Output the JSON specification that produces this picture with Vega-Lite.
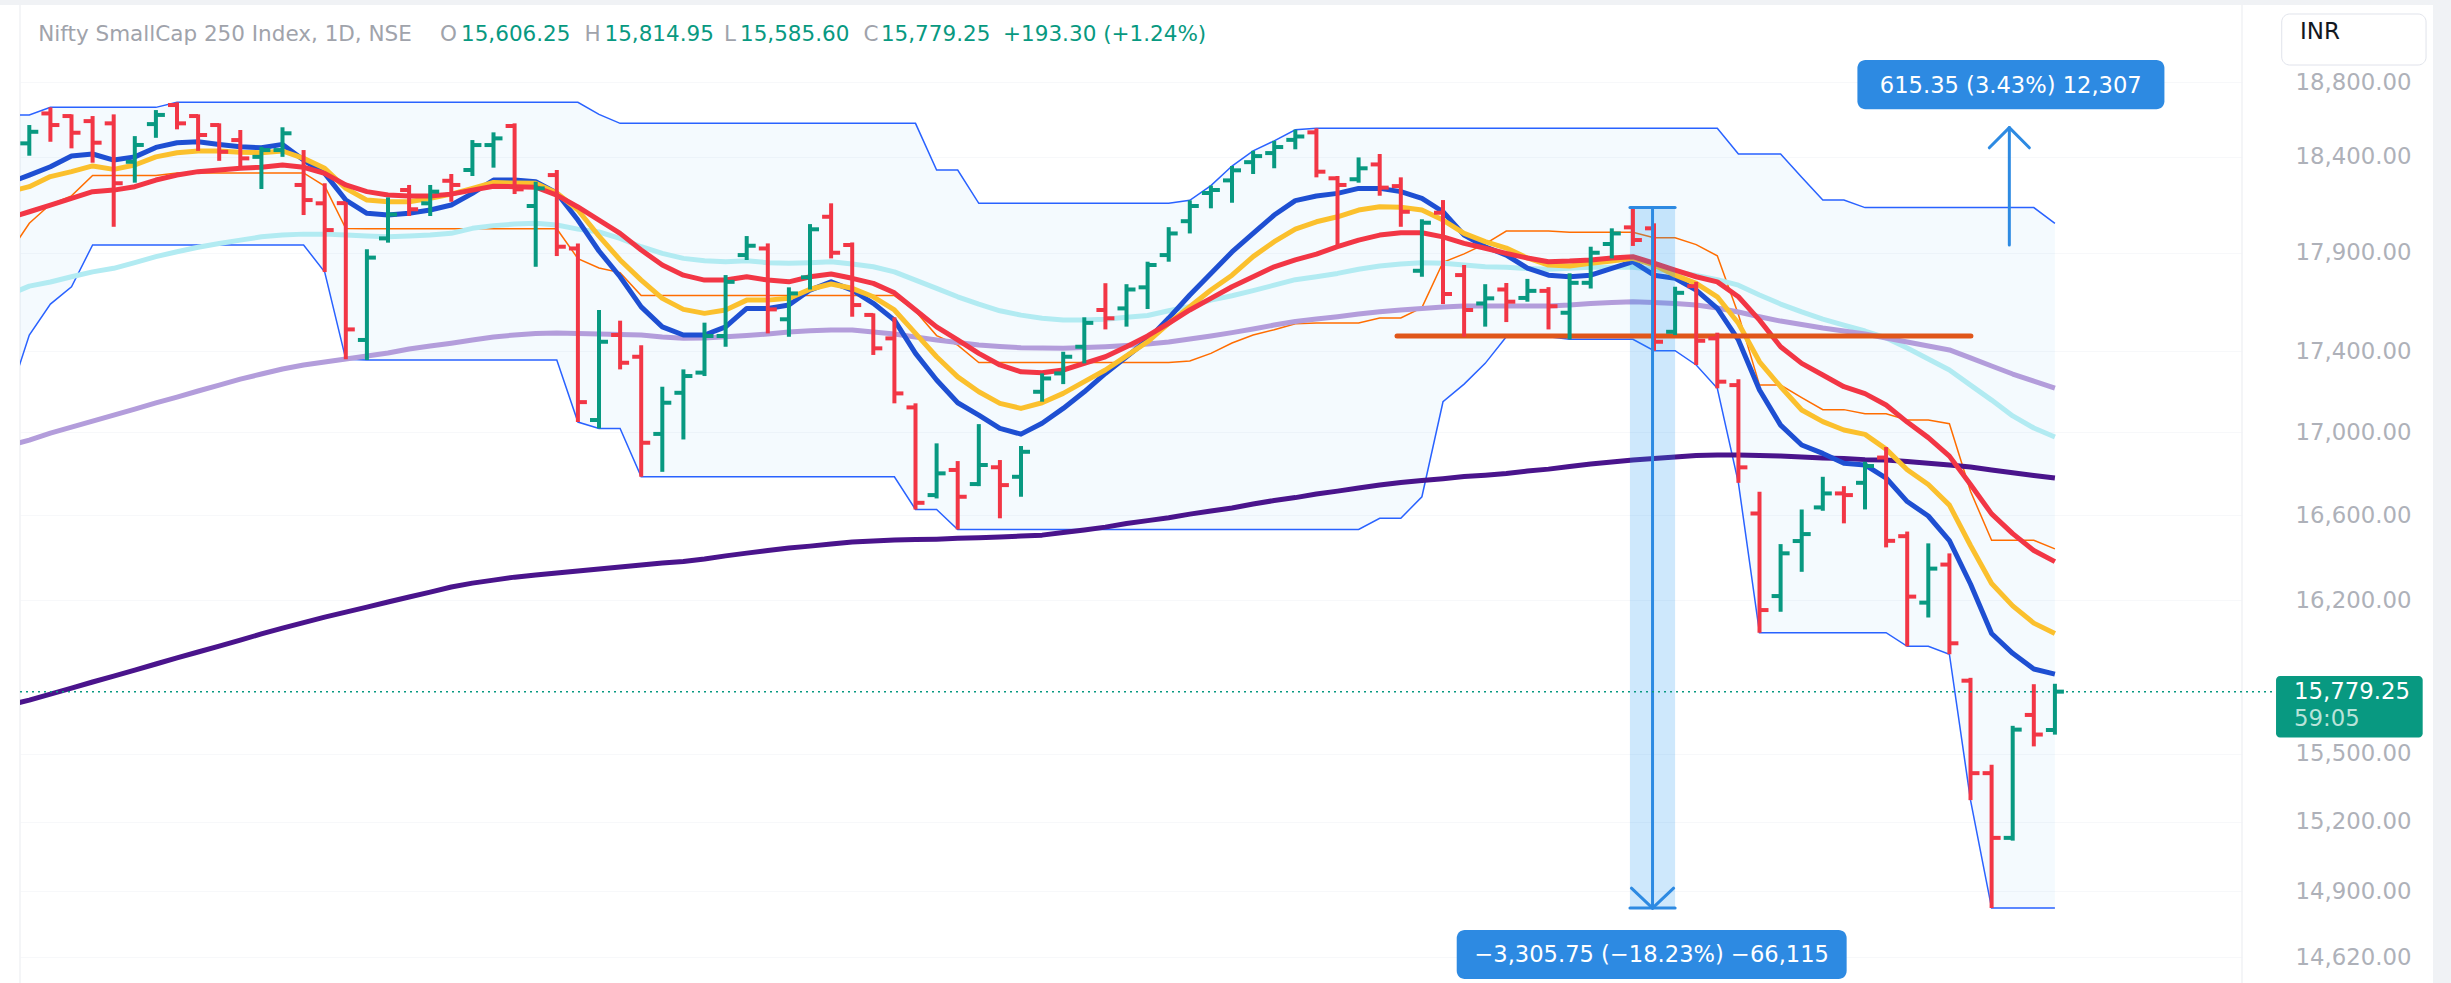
{
"$schema": "https://vega.github.io/schema/vega-lite/v6.json",
"width": 2222, "height": 978,
"autosize": {"type": "none"},
"padding": {"left": 20, "top": 5, "right": 209, "bottom": 0},
"background": "white",
"config": {"view": {"stroke": null}},
"datasets": {
"bars": [
{"i":0,"o":18471.5,"h":18569,"l":18406,"c":18533,"d":"u"},
{"i":1,"o":18631,"h":18663.5,"l":18480,"c":18569,"d":"d"},
{"i":2,"o":18617,"h":18626,"l":18445,"c":18528,"d":"d"},
{"i":3,"o":18590,"h":18617,"l":18369,"c":18475,"d":"d"},
{"i":4,"o":18578,"h":18626,"l":18034,"c":18261,"d":"d"},
{"i":5,"o":18374,"h":18510,"l":18264,"c":18463,"d":"u"},
{"i":6,"o":18574,"h":18649,"l":18501,"c":18623,"d":"u"},
{"i":7,"o":18676,"h":18690.5,"l":18546,"c":18578,"d":"d"},
{"i":8,"o":18617,"h":18626,"l":18432,"c":18516,"d":"d"},
{"i":9,"o":18569,"h":18578,"l":18379,"c":18427,"d":"d"},
{"i":10,"o":18489,"h":18542.5,"l":18351,"c":18392,"d":"d"},
{"i":11,"o":18400,"h":18453,"l":18231,"c":18436,"d":"u"},
{"i":12,"o":18436,"h":18557,"l":18400,"c":18525,"d":"u"},
{"i":13,"o":18252,"h":18436,"l":18095,"c":18173,"d":"d"},
{"i":14,"o":18156,"h":18261,"l":17801,"c":18017,"d":"d"},
{"i":15,"o":18157,"h":18162,"l":17360,"c":17510,"d":"d"},
{"i":16,"o":17457,"h":17918,"l":17356.6,"c":17875,"d":"u"},
{"i":17,"o":17974,"h":18187,"l":17952,"c":18098,"d":"u"},
{"i":18,"o":18225.5,"h":18252,"l":18090,"c":18125,"d":"d"},
{"i":19,"o":18156,"h":18252,"l":18090,"c":18217,"d":"u"},
{"i":20,"o":18274,"h":18309.7,"l":18164,"c":18252,"d":"d"},
{"i":21,"o":18330.6,"h":18489,"l":18299,"c":18462.5,"d":"u"},
{"i":22,"o":18462.5,"h":18530,"l":18343,"c":18498,"d":"u"},
{"i":23,"o":18564,"h":18578,"l":18204.5,"c":18229,"d":"d"},
{"i":24,"o":18142,"h":18269,"l":17828,"c":18234,"d":"u"},
{"i":25,"o":18304,"h":18330.6,"l":17883,"c":17931,"d":"d"},
{"i":26,"o":17922,"h":17948,"l":17050,"c":17148,"d":"d"},
{"i":27,"o":17060,"h":17608,"l":17019,"c":17448,"d":"u"},
{"i":28,"o":17482,"h":17554,"l":17310,"c":17343,"d":"d"},
{"i":29,"o":17373,"h":17431,"l":16784,"c":16949,"d":"d"},
{"i":30,"o":16992,"h":17224,"l":16808,"c":17145,"d":"u"},
{"i":31,"o":17194,"h":17310,"l":16965,"c":17277,"d":"u"},
{"i":32,"o":17294,"h":17544,"l":17277,"c":17477,"d":"u"},
{"i":33,"o":17477,"h":17785.5,"l":17423,"c":17751,"d":"u"},
{"i":34,"o":17888,"h":17986,"l":17862.6,"c":17936,"d":"u"},
{"i":35,"o":17922,"h":17948,"l":17490,"c":17611,"d":"d"},
{"i":36,"o":17561,"h":17723,"l":17473,"c":17692,"d":"u"},
{"i":37,"o":17774,"h":18048,"l":17712,"c":18021,"d":"u"},
{"i":38,"o":18086,"h":18156,"l":17871,"c":17900,"d":"d"},
{"i":39,"o":17940,"h":17953,"l":17574,"c":17633,"d":"d"},
{"i":40,"o":17583,"h":17591,"l":17382,"c":17415,"d":"d"},
{"i":41,"o":17465,"h":17571,"l":17142,"c":17191,"d":"d"},
{"i":42,"o":17122,"h":17142,"l":16627,"c":16659,"d":"d"},
{"i":43,"o":16696,"h":16946,"l":16680,"c":16800.6,"d":"u"},
{"i":44,"o":16817,"h":16860,"l":16532,"c":16688,"d":"d"},
{"i":45,"o":16749,"h":17040,"l":16739,"c":16841,"d":"u"},
{"i":46,"o":16830,"h":16865,"l":16585,"c":16744,"d":"d"},
{"i":47,"o":16784,"h":16933,"l":16688,"c":16905,"d":"u"},
{"i":48,"o":17199,"h":17290,"l":17150,"c":17265,"d":"u"},
{"i":49,"o":17290,"h":17398,"l":17237,"c":17373,"d":"u"},
{"i":50,"o":17423,"h":17571,"l":17340,"c":17543,"d":"u"},
{"i":51,"o":17608,"h":17744,"l":17510,"c":17566,"d":"d"},
{"i":52,"o":17616,"h":17739,"l":17524,"c":17712,"d":"u"},
{"i":53,"o":17723,"h":17854,"l":17613,"c":17837,"d":"u"},
{"i":54,"o":17888,"h":18032,"l":17854,"c":17999.5,"d":"u"},
{"i":55,"o":18063,"h":18171.5,"l":17999.5,"c":18142,"d":"u"},
{"i":56,"o":18210,"h":18248.8,"l":18130,"c":18225.5,"d":"u"},
{"i":57,"o":18276,"h":18351.6,"l":18159,"c":18329,"d":"u"},
{"i":58,"o":18372,"h":18432,"l":18309.7,"c":18404,"d":"u"},
{"i":59,"o":18420,"h":18485,"l":18339.8,"c":18452,"d":"u"},
{"i":60,"o":18490,"h":18544,"l":18440,"c":18508,"d":"u"},
{"i":61,"o":18530,"h":18551.5,"l":18292,"c":18321.7,"d":"d"},
{"i":62,"o":18287,"h":18299,"l":17931,"c":18252,"d":"d"},
{"i":63,"o":18282,"h":18397,"l":18264,"c":18339.6,"d":"u"},
{"i":64,"o":18360,"h":18415,"l":18195.6,"c":18238,"d":"d"},
{"i":65,"o":18246,"h":18292,"l":18034,"c":18112,"d":"d"},
{"i":66,"o":17807.5,"h":18073,"l":17777,"c":18055,"d":"u"},
{"i":67,"o":18107,"h":18173,"l":17638,"c":17689,"d":"d"},
{"i":68,"o":17785.5,"h":17837,"l":17473,"c":17608,"d":"d"},
{"i":69,"o":17641,"h":17739,"l":17524,"c":17667,"d":"u"},
{"i":70,"o":17712,"h":17745,"l":17547,"c":17650,"d":"d"},
{"i":71,"o":17669,"h":17766,"l":17650,"c":17705,"d":"u"},
{"i":72,"o":17705,"h":17724,"l":17510,"c":17627,"d":"d"},
{"i":73,"o":17594,"h":17794.6,"l":17460,"c":17746,"d":"u"},
{"i":74,"o":17746,"h":17931,"l":17717,"c":17900,"d":"u"},
{"i":75,"o":17945,"h":18026,"l":17871,"c":17999.5,"d":"u"},
{"i":76,"o":18031,"h":18133.6,"l":17935,"c":17965.5,"d":"d"},
{"i":77,"o":18026,"h":18052,"l":17403,"c":17448,"d":"d"},
{"i":78,"o":17498,"h":17726,"l":17481.5,"c":17695,"d":"u"},
{"i":79,"o":17729,"h":17751,"l":17332,"c":17453,"d":"d"},
{"i":80,"o":17465,"h":17493.5,"l":17216,"c":17249,"d":"d"},
{"i":81,"o":17232,"h":17261,"l":16755,"c":16829.6,"d":"d"},
{"i":82,"o":16608,"h":16712,"l":16048.6,"c":16153.5,"d":"d"},
{"i":83,"o":16218.6,"h":16462.5,"l":16145.6,"c":16419,"d":"u"},
{"i":84,"o":16477,"h":16627,"l":16332,"c":16510,"d":"u"},
{"i":85,"o":16637,"h":16784,"l":16621,"c":16704,"d":"u"},
{"i":86,"o":16704,"h":16739,"l":16561,"c":16696,"d":"d"},
{"i":87,"o":16755,"h":16857,"l":16627.5,"c":16836,"d":"u"},
{"i":88,"o":16877,"h":16928,"l":16447,"c":16478,"d":"d"},
{"i":89,"o":16500,"h":16522,"l":15986,"c":16216,"d":"d"},
{"i":90,"o":16188,"h":16466,"l":16119,"c":16347,"d":"u"},
{"i":91,"o":16366,"h":16418.6,"l":15949.8,"c":16000,"d":"d"},
{"i":92,"o":15829,"h":15842,"l":15295,"c":15414,"d":"d"},
{"i":93,"o":15414,"h":15451,"l":14827.9,"c":15130,"d":"d"},
{"i":94,"o":15130,"h":15625,"l":15118,"c":15608,"d":"u"},
{"i":95,"o":15674,"h":15813,"l":15533,"c":15585.95,"d":"d"},
{"i":96,"o":15606.25,"h":15814.95,"l":15585.6,"c":15779.25,"d":"u"}
],
"lines": [
{"i":-1,"du":18622.5,"dl":17158,"dm":17890,"b":18262,"ye":18215,"r":18079,"cy":17684,"lv":16933,"dp":15718},
{"i":0,"du":18622.5,"dl":17482,"dm":18052,"b":18304,"ye":18243,"r":18112,"cy":17729,"lv":16962,"dp":15741},
{"i":1,"du":18663.5,"dl":17638,"dm":18151,"b":18348,"ye":18296,"r":18147,"cy":17750,"lv":16996,"dp":15768},
{"i":2,"du":18663.5,"dl":17726,"dm":18195,"b":18404,"ye":18322,"r":18182,"cy":17777,"lv":17025,"dp":15795},
{"i":3,"du":18663.5,"dl":17940,"dm":18302,"b":18415,"ye":18352,"r":18217,"cy":17802,"lv":17055,"dp":15823},
{"i":4,"du":18663.5,"dl":17940,"dm":18302,"b":18383,"ye":18334,"r":18225,"cy":17820,"lv":17084,"dp":15850},
{"i":5,"du":18663.5,"dl":17940,"dm":18302,"b":18400,"ye":18357,"r":18243,"cy":17849,"lv":17114,"dp":15877},
{"i":6,"du":18663.5,"dl":17940,"dm":18302,"b":18450,"ye":18400,"r":18278,"cy":17880,"lv":17144,"dp":15905},
{"i":7,"du":18690.5,"dl":17940,"dm":18315,"b":18475,"ye":18422,"r":18304,"cy":17905,"lv":17173,"dp":15933},
{"i":8,"du":18690.5,"dl":17940,"dm":18315,"b":18480,"ye":18431,"r":18322,"cy":17928,"lv":17203,"dp":15960},
{"i":9,"du":18690.5,"dl":17940,"dm":18315,"b":18466,"ye":18431,"r":18331,"cy":17948,"lv":17232,"dp":15987},
{"i":10,"du":18690.5,"dl":17940,"dm":18315,"b":18453,"ye":18425,"r":18340,"cy":17965,"lv":17262,"dp":16015},
{"i":11,"du":18690.5,"dl":17940,"dm":18315,"b":18448,"ye":18422,"r":18345,"cy":17982,"lv":17287,"dp":16043},
{"i":12,"du":18690.5,"dl":17940,"dm":18315,"b":18466,"ye":18431,"r":18357,"cy":17991,"lv":17312,"dp":16070},
{"i":13,"du":18690.5,"dl":17940,"dm":18315,"b":18383,"ye":18392,"r":18345,"cy":17996,"lv":17332,"dp":16095},
{"i":14,"du":18690.5,"dl":17801,"dm":18246,"b":18313,"ye":18340,"r":18313,"cy":17996,"lv":17347,"dp":16121},
{"i":15,"du":18690.5,"dl":17360,"dm":18025,"b":18173,"ye":18234,"r":18252,"cy":17991,"lv":17362,"dp":16144},
{"i":16,"du":18690.5,"dl":17356.6,"dm":18024,"b":18104,"ye":18173,"r":18217,"cy":17986,"lv":17377,"dp":16167},
{"i":17,"du":18690.5,"dl":17356.6,"dm":18024,"b":18095,"ye":18164,"r":18199,"cy":17982,"lv":17392,"dp":16191},
{"i":18,"du":18690.5,"dl":17356.6,"dm":18024,"b":18104,"ye":18164,"r":18194,"cy":17986,"lv":17412,"dp":16214},
{"i":19,"du":18690.5,"dl":17356.6,"dm":18024,"b":18121,"ye":18182,"r":18194,"cy":17991,"lv":17427,"dp":16237},
{"i":20,"du":18690.5,"dl":17356.6,"dm":18024,"b":18147,"ye":18204,"r":18204,"cy":18000,"lv":17441,"dp":16261},
{"i":21,"du":18690.5,"dl":17356.6,"dm":18024,"b":18208,"ye":18234,"r":18225,"cy":18026,"lv":17457,"dp":16279},
{"i":22,"du":18690.5,"dl":17356.6,"dm":18024,"b":18278,"ye":18265,"r":18245,"cy":18040,"lv":17472,"dp":16293},
{"i":23,"du":18690.5,"dl":17356.6,"dm":18024,"b":18278,"ye":18262,"r":18243,"cy":18048,"lv":17482,"dp":16307},
{"i":24,"du":18690.5,"dl":17356.6,"dm":18024,"b":18269,"ye":18261,"r":18240,"cy":18052,"lv":17489,"dp":16317},
{"i":25,"du":18690.5,"dl":17356.6,"dm":18024,"b":18210,"ye":18210,"r":18199,"cy":18043,"lv":17492,"dp":16326},
{"i":26,"du":18690.5,"dl":17050,"dm":17870,"b":18069,"ye":18121,"r":18137,"cy":18022,"lv":17489,"dp":16336},
{"i":27,"du":18626,"dl":17019,"dm":17822,"b":17909,"ye":17986,"r":18069,"cy":18007,"lv":17487,"dp":16345},
{"i":28,"du":18578,"dl":17019,"dm":17798,"b":17777,"ye":17863,"r":18000,"cy":17974,"lv":17484,"dp":16355},
{"i":29,"du":18578,"dl":16784,"dm":17681,"b":17624,"ye":17760,"r":17914,"cy":17931,"lv":17482,"dp":16364},
{"i":30,"du":18578,"dl":16784,"dm":17681,"b":17523,"ye":17667,"r":17837,"cy":17897,"lv":17472,"dp":16373},
{"i":31,"du":18578,"dl":16784,"dm":17681,"b":17482,"ye":17611,"r":17785,"cy":17871,"lv":17465,"dp":16380},
{"i":32,"du":18578,"dl":16784,"dm":17681,"b":17482,"ye":17591,"r":17760,"cy":17859,"lv":17467,"dp":16392},
{"i":33,"du":18578,"dl":16784,"dm":17681,"b":17523,"ye":17608,"r":17760,"cy":17854,"lv":17473,"dp":16407},
{"i":34,"du":18578,"dl":16784,"dm":17681,"b":17616,"ye":17658,"r":17777,"cy":17859,"lv":17479,"dp":16420},
{"i":35,"du":18578,"dl":16784,"dm":17681,"b":17616,"ye":17658,"r":17760,"cy":17849,"lv":17487,"dp":16432},
{"i":36,"du":18578,"dl":16784,"dm":17681,"b":17633,"ye":17667,"r":17751,"cy":17846,"lv":17497,"dp":16444},
{"i":37,"du":18578,"dl":16784,"dm":17681,"b":17709,"ye":17713,"r":17777,"cy":17849,"lv":17503,"dp":16453},
{"i":38,"du":18578,"dl":16784,"dm":17681,"b":17751,"ye":17740,"r":17791,"cy":17854,"lv":17507,"dp":16463},
{"i":39,"du":18578,"dl":16784,"dm":17681,"b":17709,"ye":17718,"r":17769,"cy":17842,"lv":17507,"dp":16472},
{"i":40,"du":18578,"dl":16784,"dm":17681,"b":17642,"ye":17675,"r":17743,"cy":17828,"lv":17497,"dp":16477},
{"i":41,"du":18578,"dl":16784,"dm":17681,"b":17557,"ye":17608,"r":17695,"cy":17802,"lv":17487,"dp":16482},
{"i":42,"du":18578,"dl":16627,"dm":17602,"b":17390,"ye":17490,"r":17608,"cy":17760,"lv":17472,"dp":16484},
{"i":43,"du":18330.6,"dl":16627,"dm":17479,"b":17257,"ye":17373,"r":17523,"cy":17718,"lv":17457,"dp":16486},
{"i":44,"du":18330.6,"dl":16532,"dm":17431,"b":17145,"ye":17273,"r":17457,"cy":17675,"lv":17444,"dp":16490},
{"i":45,"du":18156,"dl":16532,"dm":17344,"b":17084,"ye":17199,"r":17390,"cy":17638,"lv":17432,"dp":16493},
{"i":46,"du":18156,"dl":16532,"dm":17344,"b":17019,"ye":17142,"r":17332,"cy":17604,"lv":17424,"dp":16496},
{"i":47,"du":18156,"dl":16532,"dm":17344,"b":16991,"ye":17117,"r":17298,"cy":17582,"lv":17418,"dp":16501},
{"i":48,"du":18156,"dl":16532,"dm":17344,"b":17044,"ye":17145,"r":17293,"cy":17566,"lv":17417,"dp":16505},
{"i":49,"du":18156,"dl":16532,"dm":17344,"b":17117,"ye":17191,"r":17307,"cy":17557,"lv":17415,"dp":16517},
{"i":50,"du":18156,"dl":16532,"dm":17344,"b":17199,"ye":17249,"r":17340,"cy":17557,"lv":17419,"dp":16529},
{"i":51,"du":18156,"dl":16532,"dm":17344,"b":17290,"ye":17307,"r":17373,"cy":17561,"lv":17423,"dp":16543},
{"i":52,"du":18156,"dl":16532,"dm":17344,"b":17373,"ye":17377,"r":17423,"cy":17571,"lv":17429,"dp":16560},
{"i":53,"du":18156,"dl":16532,"dm":17344,"b":17457,"ye":17448,"r":17477,"cy":17580,"lv":17437,"dp":16574},
{"i":54,"du":18156,"dl":16532,"dm":17344,"b":17567,"ye":17541,"r":17541,"cy":17604,"lv":17447,"dp":16588},
{"i":55,"du":18171.5,"dl":16532,"dm":17352,"b":17684,"ye":17624,"r":17608,"cy":17626,"lv":17462,"dp":16605},
{"i":56,"du":18248.8,"dl":16532,"dm":17390,"b":17794,"ye":17709,"r":17667,"cy":17658,"lv":17477,"dp":16620},
{"i":57,"du":18351.6,"dl":16532,"dm":17442,"b":17904,"ye":17785,"r":17726,"cy":17680,"lv":17494,"dp":16634},
{"i":58,"du":18432,"dl":16532,"dm":17482,"b":18000,"ye":17880,"r":17777,"cy":17706,"lv":17512,"dp":16653},
{"i":59,"du":18485,"dl":16532,"dm":17508,"b":18095,"ye":17957,"r":17828,"cy":17734,"lv":17532,"dp":16670},
{"i":60,"du":18544,"dl":16532,"dm":17538,"b":18170,"ye":18022,"r":17863,"cy":17762,"lv":17550,"dp":16684},
{"i":61,"du":18551.5,"dl":16532,"dm":17542,"b":18194,"ye":18060,"r":17893,"cy":17777,"lv":17562,"dp":16701},
{"i":62,"du":18551.5,"dl":16532,"dm":17542,"b":18208,"ye":18086,"r":17931,"cy":17794,"lv":17574,"dp":16715},
{"i":63,"du":18551.5,"dl":16532,"dm":17542,"b":18234,"ye":18121,"r":17965,"cy":17815,"lv":17588,"dp":16730},
{"i":64,"du":18551.5,"dl":16585,"dm":17568,"b":18234,"ye":18138,"r":17991,"cy":17832,"lv":17599,"dp":16744},
{"i":65,"du":18551.5,"dl":16585,"dm":17568,"b":18217,"ye":18135,"r":18003,"cy":17842,"lv":17608,"dp":16756},
{"i":66,"du":18551.5,"dl":16688,"dm":17620,"b":18182,"ye":18121,"r":18003,"cy":17849,"lv":17616,"dp":16766},
{"i":67,"du":18551.5,"dl":17150,"dm":17851,"b":18112,"ye":18069,"r":17982,"cy":17846,"lv":17623,"dp":16775},
{"i":68,"du":18551.5,"dl":17237,"dm":17894,"b":17991,"ye":18000,"r":17948,"cy":17837,"lv":17628,"dp":16785},
{"i":69,"du":18551.5,"dl":17340,"dm":17946,"b":17931,"ye":17957,"r":17923,"cy":17828,"lv":17628,"dp":16792},
{"i":70,"du":18551.5,"dl":17473,"dm":18012,"b":17888,"ye":17924,"r":17897,"cy":17825,"lv":17628,"dp":16800},
{"i":71,"du":18551.5,"dl":17473,"dm":18012,"b":17821,"ye":17873,"r":17873,"cy":17819,"lv":17628,"dp":16812},
{"i":72,"du":18551.5,"dl":17473,"dm":18012,"b":17785,"ye":17837,"r":17854,"cy":17815,"lv":17628,"dp":16821},
{"i":73,"du":18551.5,"dl":17460,"dm":18006,"b":17777,"ye":17832,"r":17857,"cy":17821,"lv":17633,"dp":16834},
{"i":74,"du":18551.5,"dl":17460,"dm":18006,"b":17785,"ye":17846,"r":17863,"cy":17825,"lv":17641,"dp":16846},
{"i":75,"du":18551.5,"dl":17460,"dm":18006,"b":17820,"ye":17857,"r":17873,"cy":17826,"lv":17646,"dp":16855},
{"i":76,"du":18551.5,"dl":17460,"dm":18006,"b":17854,"ye":17871,"r":17880,"cy":17825,"lv":17650,"dp":16865},
{"i":77,"du":18551.5,"dl":17403,"dm":17977,"b":17785,"ye":17837,"r":17846,"cy":17814,"lv":17646,"dp":16872},
{"i":78,"du":18551.5,"dl":17403,"dm":17977,"b":17769,"ye":17785,"r":17811,"cy":17803,"lv":17641,"dp":16880},
{"i":79,"du":18551.5,"dl":17332,"dm":17942,"b":17709,"ye":17743,"r":17777,"cy":17783,"lv":17633,"dp":16887},
{"i":80,"du":18551.5,"dl":17216,"dm":17884,"b":17616,"ye":17675,"r":17751,"cy":17762,"lv":17618,"dp":16889},
{"i":81,"du":18415,"dl":16755,"dm":17585,"b":17457,"ye":17541,"r":17675,"cy":17734,"lv":17598,"dp":16889},
{"i":82,"du":18415,"dl":16048.6,"dm":17232,"b":17208,"ye":17348,"r":17557,"cy":17684,"lv":17574,"dp":16887},
{"i":83,"du":18415,"dl":16048.6,"dm":17232,"b":17035,"ye":17224,"r":17423,"cy":17638,"lv":17552,"dp":16884},
{"i":84,"du":18292,"dl":16048.6,"dm":17170,"b":16938,"ye":17109,"r":17340,"cy":17598,"lv":17535,"dp":16880},
{"i":85,"du":18173,"dl":16048.6,"dm":17111,"b":16897,"ye":17052,"r":17282,"cy":17562,"lv":17517,"dp":16875},
{"i":86,"du":18173,"dl":16048.6,"dm":17111,"b":16849,"ye":17011,"r":17224,"cy":17532,"lv":17502,"dp":16872},
{"i":87,"du":18133.6,"dl":16048.6,"dm":17091,"b":16841,"ye":16990,"r":17190,"cy":17502,"lv":17487,"dp":16867},
{"i":88,"du":18133.6,"dl":16048.6,"dm":17091,"b":16778,"ye":16918,"r":17134,"cy":17467,"lv":17467,"dp":16865},
{"i":89,"du":18133.6,"dl":15986,"dm":17060,"b":16665,"ye":16818,"r":17050,"cy":17417,"lv":17447,"dp":16858},
{"i":90,"du":18133.6,"dl":15986,"dm":17060,"b":16596,"ye":16747,"r":16974,"cy":17362,"lv":17427,"dp":16850},
{"i":91,"du":18133.6,"dl":15949.8,"dm":17042,"b":16479,"ye":16648,"r":16884,"cy":17307,"lv":17407,"dp":16841},
{"i":92,"du":18133.6,"dl":15295,"dm":16714,"b":16275,"ye":16456,"r":16747,"cy":17232,"lv":17367,"dp":16831},
{"i":93,"du":18133.6,"dl":14827.9,"dm":16481,"b":16045,"ye":16277,"r":16606,"cy":17158,"lv":17327,"dp":16817},
{"i":94,"du":18133.6,"dl":14827.9,"dm":16481,"b":15954,"ye":16173,"r":16512,"cy":17080,"lv":17287,"dp":16804},
{"i":95,"du":18133.6,"dl":14827.9,"dm":16481,"b":15882,"ye":16093,"r":16432,"cy":17021,"lv":17252,"dp":16790},
{"i":96,"du":18052,"dl":14827.9,"dm":16440,"b":15859,"ye":16045,"r":16380,"cy":16977,"lv":17217,"dp":16778}
]
},
"layer": [
{"data": {"values": [{"a": -1.3886, "b": 115.3, "p1": 19220.6, "p2": 19330}, {"a": 113.92, "b": 115.3, "p1": 14300, "p2": 19330}]},
 "mark": {"type": "rect", "color": "#f0f2f5", "clip": false},
 "encoding": {
  "x": {"field": "a", "type": "quantitative", "scale": {"domain": [-0.4408, 104.867], "nice": false, "zero": false}, "axis": null},
  "x2": {"field": "b"},
  "y": {"field": "p1", "type": "quantitative", "scale": {"type": "log", "domain": [14512.1, 19220.6], "nice": false, "zero": false},
        "axis": {"orient": "right", "values": [14620, 14900, 15200, 15500, 16200, 16600, 17000, 17400, 17900, 18400, 18800], "format": ",.2f", "title": null, "labelFont": "DejaVu Sans", "labelFontSize": 22.8, "labelColor": "#aeb1b9", "labelAlign": "right", "labelBaseline": "middle", "labelPadding": 169, "ticks": true, "tickSize": 0, "tickColor": "transparent", "domain": false, "grid": true, "gridColor": "#f7f8fa", "gridWidth": 1, "labelFlush": false, "labelOverlap": false, "labelBound": false}},
  "y2": {"field": "p2"}}},
{"data": {"values": [{"a": -0.4408, "p1": 14512.1, "p2": 19220.6}, {"a": 104.867, "p1": 14512.1, "p2": 19220.6}]},
 "mark": {"type": "rule", "color": "#f1f2f5", "strokeWidth": 1.5, "clip": false},
 "encoding": {
  "x": {"field": "a", "type": "quantitative", "scale": {"domain": [-0.4408, 104.867], "nice": false, "zero": false}, "axis": null},
  "y": {"field": "p1", "type": "quantitative", "scale": {"type": "log", "domain": [14512.1, 19220.6], "nice": false, "zero": false},
        "axis": {"orient": "right", "values": [14620, 14900, 15200, 15500, 16200, 16600, 17000, 17400, 17900, 18400, 18800], "format": ",.2f", "title": null, "labelFont": "DejaVu Sans", "labelFontSize": 22.8, "labelColor": "#aeb1b9", "labelAlign": "right", "labelBaseline": "middle", "labelPadding": 169, "ticks": true, "tickSize": 0, "tickColor": "transparent", "domain": false, "grid": true, "gridColor": "#f7f8fa", "gridWidth": 1, "labelFlush": false, "labelOverlap": false, "labelBound": false}},
  "y2": {"field": "p2"}}},
{"data": {"name": "lines"},
 "mark": {"type": "area", "color": "#2196f3", "opacity": 0.05, "clip": true},
 "encoding": {
  "x": {"field": "i", "type": "quantitative", "scale": {"domain": [-0.4408, 104.867], "nice": false, "zero": false}, "axis": null},
  "y": {"field": "dl", "type": "quantitative", "scale": {"type": "log", "domain": [14512.1, 19220.6], "nice": false, "zero": false},
        "axis": {"orient": "right", "values": [14620, 14900, 15200, 15500, 16200, 16600, 17000, 17400, 17900, 18400, 18800], "format": ",.2f", "title": null, "labelFont": "DejaVu Sans", "labelFontSize": 22.8, "labelColor": "#aeb1b9", "labelAlign": "right", "labelBaseline": "middle", "labelPadding": 169, "ticks": true, "tickSize": 0, "tickColor": "transparent", "domain": false, "grid": true, "gridColor": "#f7f8fa", "gridWidth": 1, "labelFlush": false, "labelOverlap": false, "labelBound": false}},
  "y2": {"field": "du"}}},
{"data": {"name": "lines"},
 "mark": {"type": "line", "color": "#2962ff", "strokeWidth": 1.5, "clip": true},
 "encoding": {
  "x": {"field": "i", "type": "quantitative", "scale": {"domain": [-0.4408, 104.867], "nice": false, "zero": false}, "axis": null},
  "y": {"field": "du", "type": "quantitative", "scale": {"type": "log", "domain": [14512.1, 19220.6], "nice": false, "zero": false},
        "axis": {"orient": "right", "values": [14620, 14900, 15200, 15500, 16200, 16600, 17000, 17400, 17900, 18400, 18800], "format": ",.2f", "title": null, "labelFont": "DejaVu Sans", "labelFontSize": 22.8, "labelColor": "#aeb1b9", "labelAlign": "right", "labelBaseline": "middle", "labelPadding": 169, "ticks": true, "tickSize": 0, "tickColor": "transparent", "domain": false, "grid": true, "gridColor": "#f7f8fa", "gridWidth": 1, "labelFlush": false, "labelOverlap": false, "labelBound": false}}}},
{"data": {"name": "lines"},
 "mark": {"type": "line", "color": "#2962ff", "strokeWidth": 1.5, "clip": true},
 "encoding": {
  "x": {"field": "i", "type": "quantitative", "scale": {"domain": [-0.4408, 104.867], "nice": false, "zero": false}, "axis": null},
  "y": {"field": "dl", "type": "quantitative", "scale": {"type": "log", "domain": [14512.1, 19220.6], "nice": false, "zero": false},
        "axis": {"orient": "right", "values": [14620, 14900, 15200, 15500, 16200, 16600, 17000, 17400, 17900, 18400, 18800], "format": ",.2f", "title": null, "labelFont": "DejaVu Sans", "labelFontSize": 22.8, "labelColor": "#aeb1b9", "labelAlign": "right", "labelBaseline": "middle", "labelPadding": 169, "ticks": true, "tickSize": 0, "tickColor": "transparent", "domain": false, "grid": true, "gridColor": "#f7f8fa", "gridWidth": 1, "labelFlush": false, "labelOverlap": false, "labelBound": false}}}},
{"data": {"name": "lines"},
 "mark": {"type": "line", "color": "#ff6d00", "strokeWidth": 1.5, "clip": true},
 "encoding": {
  "x": {"field": "i", "type": "quantitative", "scale": {"domain": [-0.4408, 104.867], "nice": false, "zero": false}, "axis": null},
  "y": {"field": "dm", "type": "quantitative", "scale": {"type": "log", "domain": [14512.1, 19220.6], "nice": false, "zero": false},
        "axis": {"orient": "right", "values": [14620, 14900, 15200, 15500, 16200, 16600, 17000, 17400, 17900, 18400, 18800], "format": ",.2f", "title": null, "labelFont": "DejaVu Sans", "labelFontSize": 22.8, "labelColor": "#aeb1b9", "labelAlign": "right", "labelBaseline": "middle", "labelPadding": 169, "ticks": true, "tickSize": 0, "tickColor": "transparent", "domain": false, "grid": true, "gridColor": "#f7f8fa", "gridWidth": 1, "labelFlush": false, "labelOverlap": false, "labelBound": false}}}},
{"data": {"name": "lines"},
 "mark": {"type": "line", "color": "#b2ebf2", "strokeWidth": 5, "strokeJoin": "round", "clip": true},
 "encoding": {
  "x": {"field": "i", "type": "quantitative", "scale": {"domain": [-0.4408, 104.867], "nice": false, "zero": false}, "axis": null},
  "y": {"field": "cy", "type": "quantitative", "scale": {"type": "log", "domain": [14512.1, 19220.6], "nice": false, "zero": false},
        "axis": {"orient": "right", "values": [14620, 14900, 15200, 15500, 16200, 16600, 17000, 17400, 17900, 18400, 18800], "format": ",.2f", "title": null, "labelFont": "DejaVu Sans", "labelFontSize": 22.8, "labelColor": "#aeb1b9", "labelAlign": "right", "labelBaseline": "middle", "labelPadding": 169, "ticks": true, "tickSize": 0, "tickColor": "transparent", "domain": false, "grid": true, "gridColor": "#f7f8fa", "gridWidth": 1, "labelFlush": false, "labelOverlap": false, "labelBound": false}}}},
{"data": {"name": "lines"},
 "mark": {"type": "line", "color": "#b39ddb", "strokeWidth": 5, "strokeJoin": "round", "clip": true},
 "encoding": {
  "x": {"field": "i", "type": "quantitative", "scale": {"domain": [-0.4408, 104.867], "nice": false, "zero": false}, "axis": null},
  "y": {"field": "lv", "type": "quantitative", "scale": {"type": "log", "domain": [14512.1, 19220.6], "nice": false, "zero": false},
        "axis": {"orient": "right", "values": [14620, 14900, 15200, 15500, 16200, 16600, 17000, 17400, 17900, 18400, 18800], "format": ",.2f", "title": null, "labelFont": "DejaVu Sans", "labelFontSize": 22.8, "labelColor": "#aeb1b9", "labelAlign": "right", "labelBaseline": "middle", "labelPadding": 169, "ticks": true, "tickSize": 0, "tickColor": "transparent", "domain": false, "grid": true, "gridColor": "#f7f8fa", "gridWidth": 1, "labelFlush": false, "labelOverlap": false, "labelBound": false}}}},
{"data": {"name": "lines"},
 "mark": {"type": "line", "color": "#4a148c", "strokeWidth": 5, "strokeJoin": "round", "clip": true},
 "encoding": {
  "x": {"field": "i", "type": "quantitative", "scale": {"domain": [-0.4408, 104.867], "nice": false, "zero": false}, "axis": null},
  "y": {"field": "dp", "type": "quantitative", "scale": {"type": "log", "domain": [14512.1, 19220.6], "nice": false, "zero": false},
        "axis": {"orient": "right", "values": [14620, 14900, 15200, 15500, 16200, 16600, 17000, 17400, 17900, 18400, 18800], "format": ",.2f", "title": null, "labelFont": "DejaVu Sans", "labelFontSize": 22.8, "labelColor": "#aeb1b9", "labelAlign": "right", "labelBaseline": "middle", "labelPadding": 169, "ticks": true, "tickSize": 0, "tickColor": "transparent", "domain": false, "grid": true, "gridColor": "#f7f8fa", "gridWidth": 1, "labelFlush": false, "labelOverlap": false, "labelBound": false}}}},
{"data": {"name": "lines"},
 "mark": {"type": "line", "color": "#1e4fd2", "strokeWidth": 5, "strokeJoin": "round", "clip": true},
 "encoding": {
  "x": {"field": "i", "type": "quantitative", "scale": {"domain": [-0.4408, 104.867], "nice": false, "zero": false}, "axis": null},
  "y": {"field": "b", "type": "quantitative", "scale": {"type": "log", "domain": [14512.1, 19220.6], "nice": false, "zero": false},
        "axis": {"orient": "right", "values": [14620, 14900, 15200, 15500, 16200, 16600, 17000, 17400, 17900, 18400, 18800], "format": ",.2f", "title": null, "labelFont": "DejaVu Sans", "labelFontSize": 22.8, "labelColor": "#aeb1b9", "labelAlign": "right", "labelBaseline": "middle", "labelPadding": 169, "ticks": true, "tickSize": 0, "tickColor": "transparent", "domain": false, "grid": true, "gridColor": "#f7f8fa", "gridWidth": 1, "labelFlush": false, "labelOverlap": false, "labelBound": false}}}},
{"data": {"name": "lines"},
 "mark": {"type": "line", "color": "#fbc02d", "strokeWidth": 5, "strokeJoin": "round", "clip": true},
 "encoding": {
  "x": {"field": "i", "type": "quantitative", "scale": {"domain": [-0.4408, 104.867], "nice": false, "zero": false}, "axis": null},
  "y": {"field": "ye", "type": "quantitative", "scale": {"type": "log", "domain": [14512.1, 19220.6], "nice": false, "zero": false},
        "axis": {"orient": "right", "values": [14620, 14900, 15200, 15500, 16200, 16600, 17000, 17400, 17900, 18400, 18800], "format": ",.2f", "title": null, "labelFont": "DejaVu Sans", "labelFontSize": 22.8, "labelColor": "#aeb1b9", "labelAlign": "right", "labelBaseline": "middle", "labelPadding": 169, "ticks": true, "tickSize": 0, "tickColor": "transparent", "domain": false, "grid": true, "gridColor": "#f7f8fa", "gridWidth": 1, "labelFlush": false, "labelOverlap": false, "labelBound": false}}}},
{"data": {"name": "lines"},
 "mark": {"type": "line", "color": "#f23645", "strokeWidth": 5, "strokeJoin": "round", "clip": true},
 "encoding": {
  "x": {"field": "i", "type": "quantitative", "scale": {"domain": [-0.4408, 104.867], "nice": false, "zero": false}, "axis": null},
  "y": {"field": "r", "type": "quantitative", "scale": {"type": "log", "domain": [14512.1, 19220.6], "nice": false, "zero": false},
        "axis": {"orient": "right", "values": [14620, 14900, 15200, 15500, 16200, 16600, 17000, 17400, 17900, 18400, 18800], "format": ",.2f", "title": null, "labelFont": "DejaVu Sans", "labelFontSize": 22.8, "labelColor": "#aeb1b9", "labelAlign": "right", "labelBaseline": "middle", "labelPadding": 169, "ticks": true, "tickSize": 0, "tickColor": "transparent", "domain": false, "grid": true, "gridColor": "#f7f8fa", "gridWidth": 1, "labelFlush": false, "labelOverlap": false, "labelBound": false}}}},
{"data": {"values": [{"a": 75.86, "b": 78.0, "p1": 14827.9, "p2": 18133.6}]},
 "mark": {"type": "rect", "color": "#2196f3", "opacity": 0.22},
 "encoding": {
  "x": {"field": "a", "type": "quantitative", "scale": {"domain": [-0.4408, 104.867], "nice": false, "zero": false}, "axis": null},
  "x2": {"field": "b"},
  "y": {"field": "p1", "type": "quantitative", "scale": {"type": "log", "domain": [14512.1, 19220.6], "nice": false, "zero": false},
        "axis": {"orient": "right", "values": [14620, 14900, 15200, 15500, 16200, 16600, 17000, 17400, 17900, 18400, 18800], "format": ",.2f", "title": null, "labelFont": "DejaVu Sans", "labelFontSize": 22.8, "labelColor": "#aeb1b9", "labelAlign": "right", "labelBaseline": "middle", "labelPadding": 169, "ticks": true, "tickSize": 0, "tickColor": "transparent", "domain": false, "grid": true, "gridColor": "#f7f8fa", "gridWidth": 1, "labelFlush": false, "labelOverlap": false, "labelBound": false}},
  "y2": {"field": "p2"}}},
{"data": {"values": [{"a": 64.82, "b": 92.02, "p": 17477}]},
 "mark": {"type": "rule", "color": "#e0561a", "strokeWidth": 5, "strokeCap": "round"},
 "encoding": {
  "x": {"field": "a", "type": "quantitative", "scale": {"domain": [-0.4408, 104.867], "nice": false, "zero": false}, "axis": null},
  "x2": {"field": "b"},
  "y": {"field": "p", "type": "quantitative", "scale": {"type": "log", "domain": [14512.1, 19220.6], "nice": false, "zero": false},
        "axis": {"orient": "right", "values": [14620, 14900, 15200, 15500, 16200, 16600, 17000, 17400, 17900, 18400, 18800], "format": ",.2f", "title": null, "labelFont": "DejaVu Sans", "labelFontSize": 22.8, "labelColor": "#aeb1b9", "labelAlign": "right", "labelBaseline": "middle", "labelPadding": 169, "ticks": true, "tickSize": 0, "tickColor": "transparent", "domain": false, "grid": true, "gridColor": "#f7f8fa", "gridWidth": 1, "labelFlush": false, "labelOverlap": false, "labelBound": false}}}},
{"data": {"name": "bars"},
 "mark": {"type": "rule", "strokeWidth": 4, "clip": true},
 "encoding": {
  "x": {"field": "i", "type": "quantitative", "scale": {"domain": [-0.4408, 104.867], "nice": false, "zero": false}, "axis": null},
  "y": {"field": "l", "type": "quantitative", "scale": {"type": "log", "domain": [14512.1, 19220.6], "nice": false, "zero": false},
        "axis": {"orient": "right", "values": [14620, 14900, 15200, 15500, 16200, 16600, 17000, 17400, 17900, 18400, 18800], "format": ",.2f", "title": null, "labelFont": "DejaVu Sans", "labelFontSize": 22.8, "labelColor": "#aeb1b9", "labelAlign": "right", "labelBaseline": "middle", "labelPadding": 169, "ticks": true, "tickSize": 0, "tickColor": "transparent", "domain": false, "grid": true, "gridColor": "#f7f8fa", "gridWidth": 1, "labelFlush": false, "labelOverlap": false, "labelBound": false}},
  "y2": {"field": "h"},
  "color": {"field": "d", "type": "nominal", "scale": {"domain": ["u", "d"], "range": ["#089981", "#f23645"]}, "legend": null}}},
{"data": {"name": "bars"},
 "mark": {"type": "tick", "orient": "horizontal", "size": 9, "thickness": 4, "xOffset": -4.5, "opacity": 1, "clip": true},
 "encoding": {
  "x": {"field": "i", "type": "quantitative", "scale": {"domain": [-0.4408, 104.867], "nice": false, "zero": false}, "axis": null},
  "y": {"field": "o", "type": "quantitative", "scale": {"type": "log", "domain": [14512.1, 19220.6], "nice": false, "zero": false},
        "axis": {"orient": "right", "values": [14620, 14900, 15200, 15500, 16200, 16600, 17000, 17400, 17900, 18400, 18800], "format": ",.2f", "title": null, "labelFont": "DejaVu Sans", "labelFontSize": 22.8, "labelColor": "#aeb1b9", "labelAlign": "right", "labelBaseline": "middle", "labelPadding": 169, "ticks": true, "tickSize": 0, "tickColor": "transparent", "domain": false, "grid": true, "gridColor": "#f7f8fa", "gridWidth": 1, "labelFlush": false, "labelOverlap": false, "labelBound": false}},
  "color": {"field": "d", "type": "nominal", "scale": {"domain": ["u", "d"], "range": ["#089981", "#f23645"]}, "legend": null}}},
{"data": {"name": "bars"},
 "mark": {"type": "tick", "orient": "horizontal", "size": 9, "thickness": 4, "xOffset": 4.5, "opacity": 1, "clip": true},
 "encoding": {
  "x": {"field": "i", "type": "quantitative", "scale": {"domain": [-0.4408, 104.867], "nice": false, "zero": false}, "axis": null},
  "y": {"field": "c", "type": "quantitative", "scale": {"type": "log", "domain": [14512.1, 19220.6], "nice": false, "zero": false},
        "axis": {"orient": "right", "values": [14620, 14900, 15200, 15500, 16200, 16600, 17000, 17400, 17900, 18400, 18800], "format": ",.2f", "title": null, "labelFont": "DejaVu Sans", "labelFontSize": 22.8, "labelColor": "#aeb1b9", "labelAlign": "right", "labelBaseline": "middle", "labelPadding": 169, "ticks": true, "tickSize": 0, "tickColor": "transparent", "domain": false, "grid": true, "gridColor": "#f7f8fa", "gridWidth": 1, "labelFlush": false, "labelOverlap": false, "labelBound": false}},
  "color": {"field": "d", "type": "nominal", "scale": {"domain": ["u", "d"], "range": ["#089981", "#f23645"]}, "legend": null}}},
{"data": {"values": [
  {"a": 76.93, "b": 76.93, "p1": 14827.9, "p2": 18133.6},
  {"a": 75.86, "b": 78.0, "p1": 18133.6, "p2": 18133.6},
  {"a": 75.86, "b": 78.0, "p1": 14827.9, "p2": 14827.9},
  {"a": 75.93, "b": 76.93, "p1": 14913, "p2": 14827.9},
  {"a": 77.93, "b": 76.93, "p1": 14913, "p2": 14827.9},
  {"a": 93.84, "b": 93.84, "p1": 17940, "p2": 18555},
  {"a": 92.89, "b": 93.84, "p1": 18448, "p2": 18555},
  {"a": 94.79, "b": 93.84, "p1": 18448, "p2": 18555}
 ]},
 "mark": {"type": "rule", "color": "#2d8ae2", "strokeWidth": 3, "strokeCap": "round"},
 "encoding": {
  "x": {"field": "a", "type": "quantitative", "scale": {"domain": [-0.4408, 104.867], "nice": false, "zero": false}, "axis": null},
  "x2": {"field": "b"},
  "y": {"field": "p1", "type": "quantitative", "scale": {"type": "log", "domain": [14512.1, 19220.6], "nice": false, "zero": false},
        "axis": {"orient": "right", "values": [14620, 14900, 15200, 15500, 16200, 16600, 17000, 17400, 17900, 18400, 18800], "format": ",.2f", "title": null, "labelFont": "DejaVu Sans", "labelFontSize": 22.8, "labelColor": "#aeb1b9", "labelAlign": "right", "labelBaseline": "middle", "labelPadding": 169, "ticks": true, "tickSize": 0, "tickColor": "transparent", "domain": false, "grid": true, "gridColor": "#f7f8fa", "gridWidth": 1, "labelFlush": false, "labelOverlap": false, "labelBound": false}},
  "y2": {"field": "p2"}}},
{"data": {"values": [
  {"a": 86.64, "b": 101.19, "p1": 18653, "p2": 18919},
  {"a": 67.65, "b": 86.13, "p1": 14528.8, "p2": 14734.3}
 ]},
 "mark": {"type": "rect", "color": "#2d8ae2", "cornerRadius": 8},
 "encoding": {
  "x": {"field": "a", "type": "quantitative", "scale": {"domain": [-0.4408, 104.867], "nice": false, "zero": false}, "axis": null},
  "x2": {"field": "b"},
  "y": {"field": "p1", "type": "quantitative", "scale": {"type": "log", "domain": [14512.1, 19220.6], "nice": false, "zero": false},
        "axis": {"orient": "right", "values": [14620, 14900, 15200, 15500, 16200, 16600, 17000, 17400, 17900, 18400, 18800], "format": ",.2f", "title": null, "labelFont": "DejaVu Sans", "labelFontSize": 22.8, "labelColor": "#aeb1b9", "labelAlign": "right", "labelBaseline": "middle", "labelPadding": 169, "ticks": true, "tickSize": 0, "tickColor": "transparent", "domain": false, "grid": true, "gridColor": "#f7f8fa", "gridWidth": 1, "labelFlush": false, "labelOverlap": false, "labelBound": false}},
  "y2": {"field": "p2"}}},
{"data": {"values": [
  {"a": 93.91, "p": 18778.4, "t": "615.35 (3.43%) 12,307"},
  {"a": 76.89, "p": 14629.3, "t": "\u22123,305.75 (\u221218.23%) \u221266,115"}
 ]},
 "mark": {"type": "text", "color": "white", "font": "DejaVu Sans", "fontSize": 22.6, "align": "center", "baseline": "middle"},
 "encoding": {
  "x": {"field": "a", "type": "quantitative", "scale": {"domain": [-0.4408, 104.867], "nice": false, "zero": false}, "axis": null},
  "y": {"field": "p", "type": "quantitative", "scale": {"type": "log", "domain": [14512.1, 19220.6], "nice": false, "zero": false},
        "axis": {"orient": "right", "values": [14620, 14900, 15200, 15500, 16200, 16600, 17000, 17400, 17900, 18400, 18800], "format": ",.2f", "title": null, "labelFont": "DejaVu Sans", "labelFontSize": 22.8, "labelColor": "#aeb1b9", "labelAlign": "right", "labelBaseline": "middle", "labelPadding": 169, "ticks": true, "tickSize": 0, "tickColor": "transparent", "domain": false, "grid": true, "gridColor": "#f7f8fa", "gridWidth": 1, "labelFlush": false, "labelOverlap": false, "labelBound": false}},
  "text": {"field": "t", "type": "nominal"}}},
{"data": {"values": [{"a": -0.4408, "b": 106.29, "p": 15779.25}]},
 "mark": {"type": "rule", "color": "#089981", "strokeWidth": 1.5, "strokeDash": [2, 4], "clip": false},
 "encoding": {
  "x": {"field": "a", "type": "quantitative", "scale": {"domain": [-0.4408, 104.867], "nice": false, "zero": false}, "axis": null},
  "x2": {"field": "b"},
  "y": {"field": "p", "type": "quantitative", "scale": {"type": "log", "domain": [14512.1, 19220.6], "nice": false, "zero": false},
        "axis": {"orient": "right", "values": [14620, 14900, 15200, 15500, 16200, 16600, 17000, 17400, 17900, 18400, 18800], "format": ",.2f", "title": null, "labelFont": "DejaVu Sans", "labelFontSize": 22.8, "labelColor": "#aeb1b9", "labelAlign": "right", "labelBaseline": "middle", "labelPadding": 169, "ticks": true, "tickSize": 0, "tickColor": "transparent", "domain": false, "grid": true, "gridColor": "#f7f8fa", "gridWidth": 1, "labelFlush": false, "labelOverlap": false, "labelBound": false}}}},
{"data": {"values": [{"a": 106.48, "b": 113.43, "p1": 15573.2, "p2": 15849.9}]},
 "mark": {"type": "rect", "color": "#089981", "cornerRadius": 4, "clip": false},
 "encoding": {
  "x": {"field": "a", "type": "quantitative", "scale": {"domain": [-0.4408, 104.867], "nice": false, "zero": false}, "axis": null},
  "x2": {"field": "b"},
  "y": {"field": "p1", "type": "quantitative", "scale": {"type": "log", "domain": [14512.1, 19220.6], "nice": false, "zero": false},
        "axis": {"orient": "right", "values": [14620, 14900, 15200, 15500, 16200, 16600, 17000, 17400, 17900, 18400, 18800], "format": ",.2f", "title": null, "labelFont": "DejaVu Sans", "labelFontSize": 22.8, "labelColor": "#aeb1b9", "labelAlign": "right", "labelBaseline": "middle", "labelPadding": 169, "ticks": true, "tickSize": 0, "tickColor": "transparent", "domain": false, "grid": true, "gridColor": "#f7f8fa", "gridWidth": 1, "labelFlush": false, "labelOverlap": false, "labelBound": false}},
  "y2": {"field": "p2"}}},
{"data": {"values": [{"a": 107.33, "p": 15779.25, "t": "15,779.25"}]},
 "mark": {"type": "text", "color": "white", "font": "DejaVu Sans", "fontSize": 22.8, "align": "left", "baseline": "middle", "clip": false},
 "encoding": {
  "x": {"field": "a", "type": "quantitative", "scale": {"domain": [-0.4408, 104.867], "nice": false, "zero": false}, "axis": null},
  "y": {"field": "p", "type": "quantitative", "scale": {"type": "log", "domain": [14512.1, 19220.6], "nice": false, "zero": false},
        "axis": {"orient": "right", "values": [14620, 14900, 15200, 15500, 16200, 16600, 17000, 17400, 17900, 18400, 18800], "format": ",.2f", "title": null, "labelFont": "DejaVu Sans", "labelFontSize": 22.8, "labelColor": "#aeb1b9", "labelAlign": "right", "labelBaseline": "middle", "labelPadding": 169, "ticks": true, "tickSize": 0, "tickColor": "transparent", "domain": false, "grid": true, "gridColor": "#f7f8fa", "gridWidth": 1, "labelFlush": false, "labelOverlap": false, "labelBound": false}},
  "text": {"field": "t", "type": "nominal"}}},
{"data": {"values": [{"a": 107.33, "p": 15655.3, "t": "59:05"}]},
 "mark": {"type": "text", "color": "#b8e3d9", "font": "DejaVu Sans", "fontSize": 22.8, "align": "left", "baseline": "middle", "clip": false},
 "encoding": {
  "x": {"field": "a", "type": "quantitative", "scale": {"domain": [-0.4408, 104.867], "nice": false, "zero": false}, "axis": null},
  "y": {"field": "p", "type": "quantitative", "scale": {"type": "log", "domain": [14512.1, 19220.6], "nice": false, "zero": false},
        "axis": {"orient": "right", "values": [14620, 14900, 15200, 15500, 16200, 16600, 17000, 17400, 17900, 18400, 18800], "format": ",.2f", "title": null, "labelFont": "DejaVu Sans", "labelFontSize": 22.8, "labelColor": "#aeb1b9", "labelAlign": "right", "labelBaseline": "middle", "labelPadding": 169, "ticks": true, "tickSize": 0, "tickColor": "transparent", "domain": false, "grid": true, "gridColor": "#f7f8fa", "gridWidth": 1, "labelFlush": false, "labelOverlap": false, "labelBound": false}},
  "text": {"field": "t", "type": "nominal"}}},
{"data": {"values": [{"a": 106.75, "b": 113.59, "p1": 18892, "p2": 19171}]},
 "mark": {"type": "rect", "fill": "white", "stroke": "#e0e3eb", "strokeWidth": 1, "cornerRadius": 8, "clip": false},
 "encoding": {
  "x": {"field": "a", "type": "quantitative", "scale": {"domain": [-0.4408, 104.867], "nice": false, "zero": false}, "axis": null},
  "x2": {"field": "b"},
  "y": {"field": "p1", "type": "quantitative", "scale": {"type": "log", "domain": [14512.1, 19220.6], "nice": false, "zero": false},
        "axis": {"orient": "right", "values": [14620, 14900, 15200, 15500, 16200, 16600, 17000, 17400, 17900, 18400, 18800], "format": ",.2f", "title": null, "labelFont": "DejaVu Sans", "labelFontSize": 22.8, "labelColor": "#aeb1b9", "labelAlign": "right", "labelBaseline": "middle", "labelPadding": 169, "ticks": true, "tickSize": 0, "tickColor": "transparent", "domain": false, "grid": true, "gridColor": "#f7f8fa", "gridWidth": 1, "labelFlush": false, "labelOverlap": false, "labelBound": false}},
  "y2": {"field": "p2"}}},
{"data": {"values": [{"a": 107.62, "p": 19073.7, "t": "INR"}]},
 "mark": {"type": "text", "color": "#131722", "font": "DejaVu Sans", "fontSize": 23, "align": "left", "baseline": "middle", "clip": false},
 "encoding": {
  "x": {"field": "a", "type": "quantitative", "scale": {"domain": [-0.4408, 104.867], "nice": false, "zero": false}, "axis": null},
  "y": {"field": "p", "type": "quantitative", "scale": {"type": "log", "domain": [14512.1, 19220.6], "nice": false, "zero": false},
        "axis": {"orient": "right", "values": [14620, 14900, 15200, 15500, 16200, 16600, 17000, 17400, 17900, 18400, 18800], "format": ",.2f", "title": null, "labelFont": "DejaVu Sans", "labelFontSize": 22.8, "labelColor": "#aeb1b9", "labelAlign": "right", "labelBaseline": "middle", "labelPadding": 169, "ticks": true, "tickSize": 0, "tickColor": "transparent", "domain": false, "grid": true, "gridColor": "#f7f8fa", "gridWidth": 1, "labelFlush": false, "labelOverlap": false, "labelBound": false}},
  "text": {"field": "t", "type": "nominal"}}},
{"data": {"values": [
  {"a": 0.426, "p": 19055.6, "t": "Nifty SmallCap 250 Index, 1D, NSE"},
  {"a": 19.46, "p": 19055.6, "t": "O"},
  {"a": 26.31, "p": 19055.6, "t": "H"},
  {"a": 32.92, "p": 19055.6, "t": "L"},
  {"a": 39.54, "p": 19055.6, "t": "C"}
 ]},
 "mark": {"type": "text", "color": "#a0a3ab", "font": "DejaVu Sans", "fontSize": 21.5, "align": "left", "baseline": "middle"},
 "encoding": {
  "x": {"field": "a", "type": "quantitative", "scale": {"domain": [-0.4408, 104.867], "nice": false, "zero": false}, "axis": null},
  "y": {"field": "p", "type": "quantitative", "scale": {"type": "log", "domain": [14512.1, 19220.6], "nice": false, "zero": false},
        "axis": {"orient": "right", "values": [14620, 14900, 15200, 15500, 16200, 16600, 17000, 17400, 17900, 18400, 18800], "format": ",.2f", "title": null, "labelFont": "DejaVu Sans", "labelFontSize": 22.8, "labelColor": "#aeb1b9", "labelAlign": "right", "labelBaseline": "middle", "labelPadding": 169, "ticks": true, "tickSize": 0, "tickColor": "transparent", "domain": false, "grid": true, "gridColor": "#f7f8fa", "gridWidth": 1, "labelFlush": false, "labelOverlap": false, "labelBound": false}},
  "text": {"field": "t", "type": "nominal"}}},
{"data": {"values": [
  {"a": 20.46, "p": 19055.6, "t": "15,606.25"},
  {"a": 27.26, "p": 19055.6, "t": "15,814.95"},
  {"a": 33.68, "p": 19055.6, "t": "15,585.60"},
  {"a": 40.36, "p": 19055.6, "t": "15,779.25"},
  {"a": 46.15, "p": 19055.6, "t": "+193.30 (+1.24%)"}
 ]},
 "mark": {"type": "text", "color": "#089981", "font": "DejaVu Sans", "fontSize": 21.5, "align": "left", "baseline": "middle"},
 "encoding": {
  "x": {"field": "a", "type": "quantitative", "scale": {"domain": [-0.4408, 104.867], "nice": false, "zero": false}, "axis": null},
  "y": {"field": "p", "type": "quantitative", "scale": {"type": "log", "domain": [14512.1, 19220.6], "nice": false, "zero": false},
        "axis": {"orient": "right", "values": [14620, 14900, 15200, 15500, 16200, 16600, 17000, 17400, 17900, 18400, 18800], "format": ",.2f", "title": null, "labelFont": "DejaVu Sans", "labelFontSize": 22.8, "labelColor": "#aeb1b9", "labelAlign": "right", "labelBaseline": "middle", "labelPadding": 169, "ticks": true, "tickSize": 0, "tickColor": "transparent", "domain": false, "grid": true, "gridColor": "#f7f8fa", "gridWidth": 1, "labelFlush": false, "labelOverlap": false, "labelBound": false}},
  "text": {"field": "t", "type": "nominal"}}}
]
}
